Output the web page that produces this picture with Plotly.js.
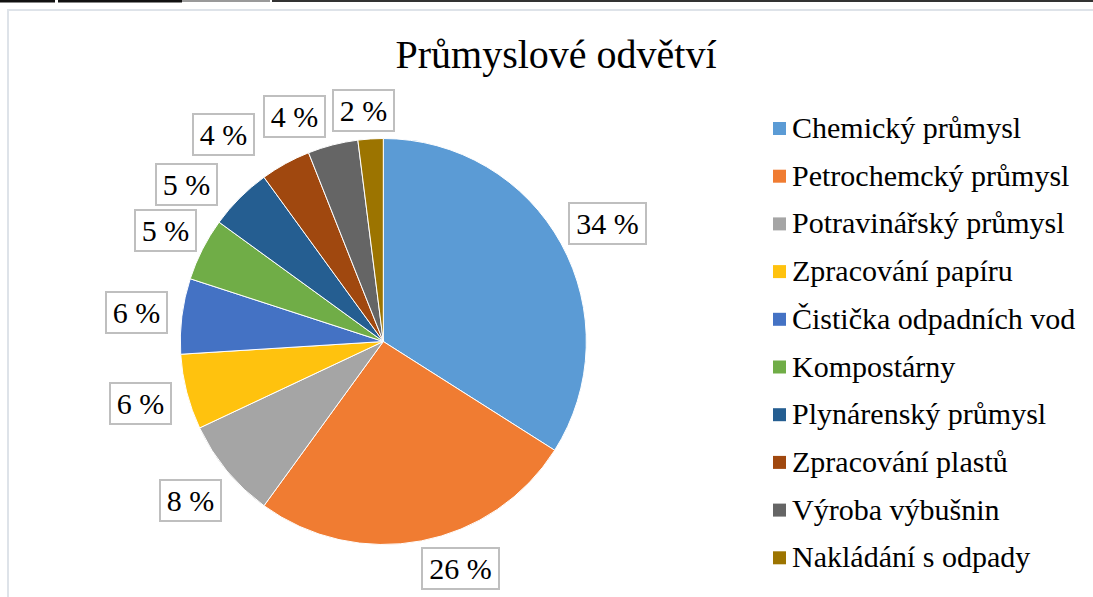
<!DOCTYPE html>
<html>
<head>
<meta charset="utf-8">
<script src="https://cdn.plot.ly/plotly-3.0.1.min.js"></script>
<style>html,body{margin:0;padding:0;background:#fff;}#chart{width:1093px;height:597px;}</style>
</head>
<body>
<div id="chart"></div>
<script>
// ---- data ----
const categories = ["Chemický průmysl", "Petrochemcký průmysl", "Potravinářský průmysl", "Zpracování papíru", "Čistička odpadních vod", "Kompostárny", "Plynárenský průmysl", "Zpracování plastů", "Výroba výbušnin", "Nakládání s odpady"];
const values = [34, 26, 8, 6, 6, 5, 5, 4, 4, 2];
const colors = ["#5B9BD5", "#F07C32", "#A5A5A5", "#FFC20E", "#4472C4", "#70AD47", "#255E91", "#A0480F", "#656565", "#9C7400"];
const chartTitle = "Průmyslové odvětví";

// ---- layout helpers (pixel geometry) ----
const W = 1093, H = 597;
const cx = 383.3, cy = 341.5, R = 203;
const px = x => x / W;
const py = y => 1 - y / H;
// label placement tweaks (degrees along circle, distance from centre in px)
const labelAngShift = [1, -8, 0, 0, -0.5, 0, -6.4, -8.9, -7, -1.4];
const labelDist = [253, 240, 250, 251, 249, 245, 252, 262, 242, 232];

const total = values.reduce((a, b) => a + b, 0);
const annotations = [];
let cum = 0;
values.forEach((v, i) => {
  const mid = ((cum + v / 2) / total * 360 + labelAngShift[i]) * Math.PI / 180;
  cum += v;
  const x = cx + labelDist[i] * Math.sin(mid);
  const y = cy - labelDist[i] * Math.cos(mid);
  const txt = Math.round(v / total * 100) + " %";
  annotations.push({
    x: px(x), y: py(y), xref: "paper", yref: "paper",
    xanchor: "center", yanchor: "middle", showarrow: false,
    text: txt,
    font: {family: "Liberation Serif, Times New Roman, serif", size: 30, color: "#000"},
    bordercolor: "#BFBFBF", borderwidth: 2, borderpad: 1,
    width: txt.length >= 4 ? 73 : 57, height: 37,
    bgcolor: "#fff"
  });
});

// manual legend
const shapes = [];
const legX = 773, legTextX = 790, legY0 = 128.5, legStep = 47.7, sq = 13;
categories.forEach((c, i) => {
  const yy = legY0 + i * legStep;
  shapes.push({type: "rect", xref: "paper", yref: "paper",
    x0: px(legX), x1: px(legX + sq), y0: py(yy - sq / 2), y1: py(yy + sq / 2),
    fillcolor: colors[i], line: {width: 0}});
  annotations.push({x: px(legTextX), y: py(yy - 1), xref: "paper", yref: "paper",
    xanchor: "left", yanchor: "middle", showarrow: false, text: c,
    font: {family: "Liberation Serif, Times New Roman, serif", size: 30, color: "#000"}});
});

// frame + top strip
shapes.push({type: "rect", xref: "paper", yref: "paper", x0: px(8), x1: px(1110), y0: py(615), y1: py(10),
  line: {color: "#DEE3E9", width: 2}, fillcolor: "rgba(0,0,0,0)", layer: "below"});
[[0, 55, "#111", 3], [58, 182, "#111", 3], [182, 270, "#9a9a9a", 2], [272, 1093, "#333", 2]].forEach(s => {
  shapes.push({type: "line", xref: "paper", yref: "paper", x0: px(s[0]), x1: px(s[1]), y0: py(1), y1: py(1),
    line: {color: s[2], width: s[3]}});
});

const trace = {
  type: "pie",
  labels: categories,
  values: values,
  sort: false,
  direction: "clockwise",
  rotation: 0,
  textinfo: "none",
  marker: {colors: colors, line: {color: "#ffffff", width: 1}},
  domain: {x: [px(cx - R), px(cx + R)], y: [py(cy + R), py(cy - R)]},
  showlegend: false
};

const layout = {
  width: W, height: H,
  margin: {l: 0, r: 0, t: 0, b: 0},
  paper_bgcolor: "#fff",
  showlegend: false,
  title: {text: chartTitle, font: {family: "Liberation Serif, Times New Roman, serif", size: 40, color: "#000"},
    x: px(556), xanchor: "center", xref: "paper", y: py(54), yanchor: "middle", yref: "container"},
  annotations: annotations,
  shapes: shapes
};

Plotly.newPlot("chart", [trace], layout, {displayModeBar: false, staticPlot: true});
</script>
</body>
</html>
